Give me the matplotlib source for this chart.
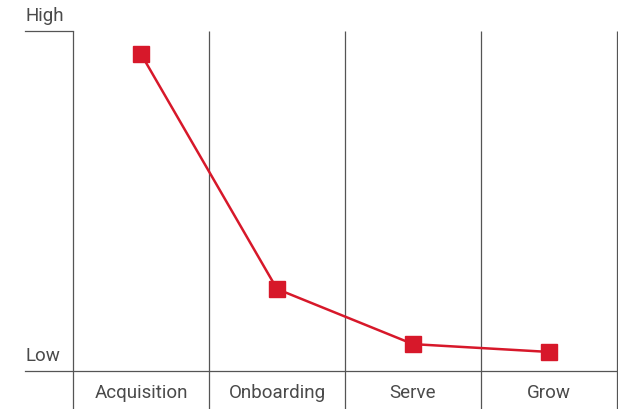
import matplotlib.pyplot as plt

stages = ['Acquisition', 'Onboarding', 'Serve', 'Grow']
level = [0.932, 0.241, 0.079, 0.056]

red = '#d7182a'
grey = '#555555'
text_grey = '#4a4a4a'

fig = plt.figure(figsize=(6.18, 4.10), dpi=100)
ax = fig.add_axes([0, 0, 1, 1])
ax.set_xlim(-1.037, 3.507)
ax.set_ylim(-0.1118, 1.094)
ax.axis('off')

# column separators and baseline
n = len(stages)
for b in [i - 0.5 for i in range(n + 1)]:
    ax.plot([b, b], [-0.12, 1.0], color=grey, lw=0.9, solid_capstyle='butt')
ax.plot([-0.853, n - 0.5], [0, 0], color=grey, lw=0.9)
ax.plot([-0.853, -0.5], [1, 1], color=grey, lw=0.9)

ax.plot(range(n), level, color=red, lw=1.8, marker='s', ms=11, mec=red, mfc=red)

font = dict(family=['Roboto', 'DejaVu Sans'], fontweight='normal', color=text_grey, fontsize=13.5)
ax.text(-0.853, 1.02, 'High', ha='left', va='bottom', **font)
ax.text(-0.853, 0.02, 'Low', ha='left', va='bottom', **font)
for i, s in enumerate(stages):
    ax.text(i, -0.062, s, ha='center', va='center', **font)

fig.savefig('out.png', dpi=100)
